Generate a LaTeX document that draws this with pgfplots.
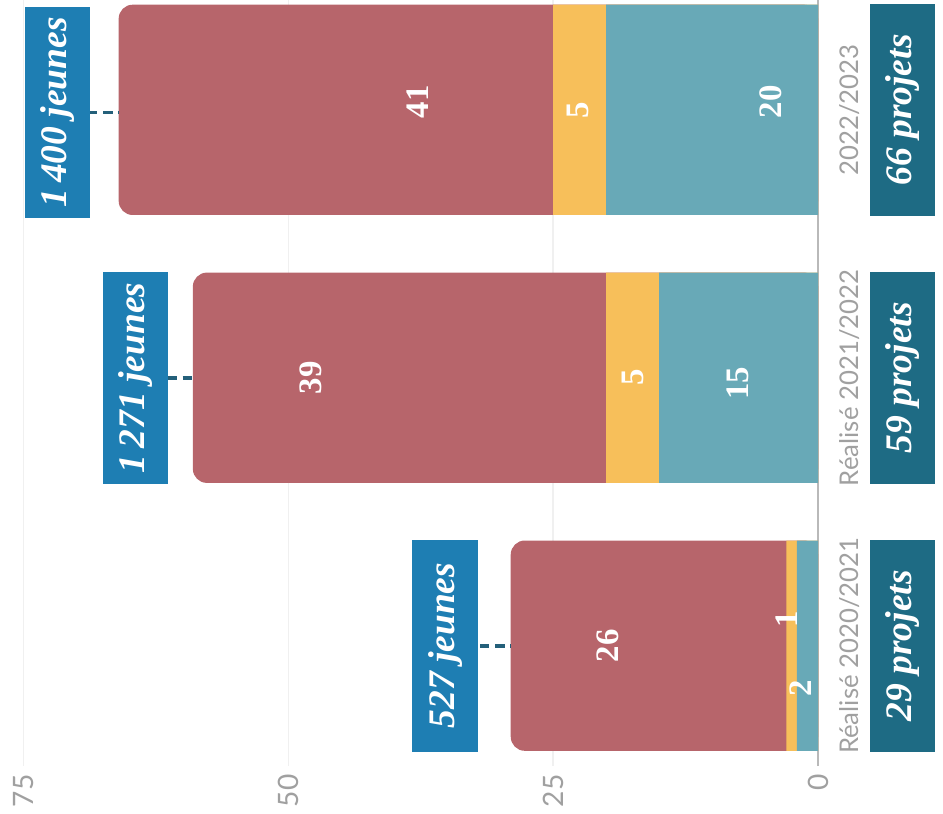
\documentclass[border=0pt]{standalone}
\usepackage{pgfplots}
\pgfplotsset{compat=1.18}
\usepackage{fontspec}
\setmainfont{Liberation Serif}
\newfontfamily\tickfont{Lato}

\definecolor{cred}{HTML}{B7656B}
\definecolor{cyel}{HTML}{F7BF5A}
\definecolor{cteal}{HTML}{68A9B7}
\definecolor{cblue}{HTML}{1E7EB3}
\definecolor{cdark}{HTML}{1E6B84}
\definecolor{cgrey}{HTML}{A0A0A0}
\definecolor{cdash}{HTML}{24607A}

\pgfplotsset{
  lbl/.style={only marks, mark=none, nodes near coords, point meta=explicit symbolic,
    nodes near coords align=center,
    every node near coord/.append style={rotate=90, anchor=center, text=white,
      font=\fontsize{14}{16}\selectfont\bfseries}},
  box/.style={only marks, mark=none, nodes near coords, point meta=explicit symbolic,
    nodes near coords align=center,
    every node near coord/.append style={rotate=90, anchor=center, text=white,
      fill=#1, inner sep=0pt, minimum width=3.18cm, minimum height=0.98cm,
      font=\fontsize{16}{18}\selectfont\bfseries\itshape}},
}

\begin{document}
\begin{tikzpicture}
\begin{axis}[
  name=ax,
  x=0.159cm, y=4.02cm,
  x dir=reverse,
  xmin=0, xmax=77.2,
  ymin=-0.45, ymax=2.41,
  bar width=0.785, bar shift=0pt,
  clip=false,
  axis line style={draw=none},
  major tick length=0pt,
  xtick={0,25,50,75},
  ytick={0,1,2},
  yticklabels={Réalisé 2020/2021, Réalisé 2021/2022, 2022/2023},
  yticklabel pos=right,
  xmajorgrids,
  grid style={gray!12, line width=0.6pt},
  extra x ticks={0},
  extra x tick labels={},
  extra x tick style={grid style={gray!55, line width=0.8pt}},
  /pgf/number format/assume math mode=true,
  xticklabel style={rotate=90, anchor=east, text=cgrey, font=\tickfont\fontsize{12}{14}\selectfont},
  yticklabel style={xshift=0.48cm, rotate=90, anchor=center, text=cgrey, font=\tickfont\fontsize{11}{13}\selectfont},
]
% red = total of the bar, yellow and teal on top of it
\addplot[xbar, fill=cred, draw=none, rounded corners=6pt] coordinates {(29,0) (59,1) (66,2)};
\addplot[xbar, fill=cyel, draw=none] coordinates {(3,0) (20,1) (25,2)};
\addplot[xbar, fill=cteal, draw=none] coordinates {(2,0) (15,1) (20,2)};

% segment values
\addplot[lbl] table[meta=l] {
x y l
37.8 2.03 41
22.7 2.0 5
4.5 2.03 20
47.9 1.0 39
17.5 1.0 5
7.6 0.98 15
19.8 0.0 26
3.0 0.10 1
1.6 -0.16 2
};

% connectors
\addplot[cdash, line width=1.6pt, dash pattern=on 4pt off 2.5pt, unbounded coords=jump]
  coordinates {(68.9,1.99) (66,1.99) (nan,nan) (61.4,1.0) (59,1.0) (nan,nan) (31.9,0) (29,0)};

% jeunes
\addplot[box=cblue] table[meta=l] {
x y l
71.8 1.99 {1\,400 jeunes}
64.4 1.0 {1\,271 jeunes}
35.2 0.0 {527 jeunes}
};
% projets
\addplot[box=cdark] table[meta=l] {
x y l
-7.97 2 {66 projets}
-7.97 1 {59 projets}
-7.97 0 {29 projets}
};

\coordinate (bl) at (axis cs:77.2,-0.45);
\coordinate (tr) at (axis cs:0,2.41);
\end{axis}
\pgfresetboundingbox
\path ([yshift=-0.71cm]bl) rectangle ([xshift=1.875cm]tr);
\end{tikzpicture}
\end{document}
